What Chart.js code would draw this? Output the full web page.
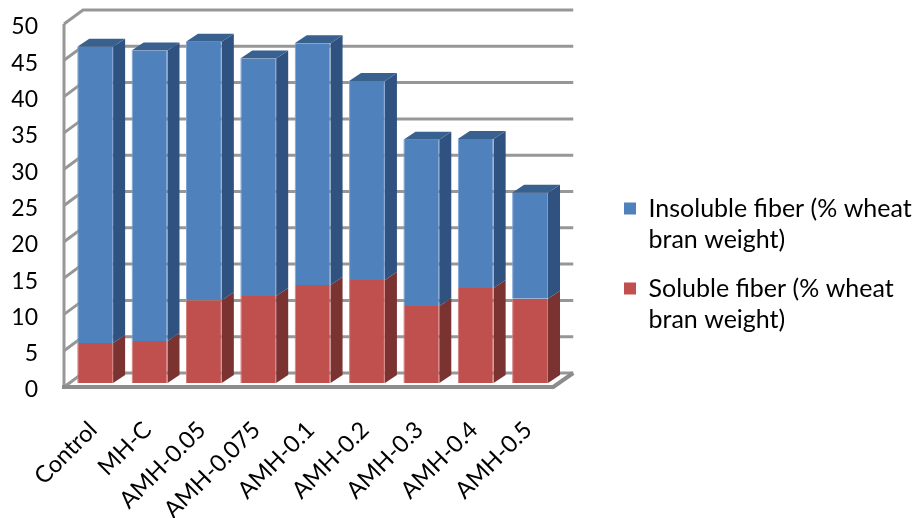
<!DOCTYPE html>
<html>
<head>
<meta charset="utf-8">
<style>
  html, body { margin: 0; padding: 0; background: #fff; }
  canvas { display: block; }
</style>
<script src="https://cdn.jsdelivr.net/npm/chart.js@4/dist/chart.umd.min.js"></script>
</head>
<body>
<canvas id="fiberChart" width="914" height="518"></canvas>
<script>
const categories = ["Control", "MH-C", "AMH-0.05", "AMH-0.075", "AMH-0.1", "AMH-0.2", "AMH-0.3", "AMH-0.4", "AMH-0.5"];
const soluble = [5.5, 5.8, 11.4, 12.0, 13.5, 14.2, 10.6, 13.1, 11.6];
const insoluble = [40.8, 40.0, 35.6, 32.7, 33.3, 27.4, 22.9, 20.5, 14.6];
const solubleLabel = ["Soluble fiber (% wheat", "bran weight)"];
const insolubleLabel = ["Insoluble fiber (% wheat", "bran weight)"];

const FONT = "Lato, Carlito, sans-serif";
const TEXT = "#000";

// fake 3D: walls and floor behind the bars, side and top faces on each bar
const depth3d = {
  id: "depth3d",
  afterLayout(chart) {
    // legend box is capped by the layout, its text runs on past that, so just move it
    chart.legend.left = 606;
    chart.legend.right = chart.width;
    chart.legend.top -= 2;
    chart.legend.bottom -= 2;
  },
  beforeDatasetsDraw(chart) {
    const { ctx, chartArea: area, scales } = chart;
    const y = scales.y;
    const frontX = area.left - 4, frontDy = 4;
    const backX = area.left + 15, backDy = -10;
    const backRight = area.right + 16, frontRight = area.right - 4;

    ctx.save();
    ctx.lineCap = "butt";
    ctx.lineJoin = "miter";
    ctx.strokeStyle = "#979797";
    ctx.lineWidth = 3;

    y.ticks.forEach(t => {
      const py = y.getPixelForValue(t.value);
      ctx.beginPath();
      ctx.moveTo(frontX, py + frontDy);
      ctx.lineTo(backX, py + backDy);
      ctx.lineTo(backRight, py + backDy);
      ctx.stroke();
    });

    // left wall edge
    ctx.beginPath();
    ctx.moveTo(frontX, y.getPixelForValue(50) + frontDy);
    ctx.lineTo(frontX, y.getPixelForValue(0) + frontDy);
    ctx.stroke();

    // floor front and right edges
    const floorY = y.getPixelForValue(0);
    ctx.strokeStyle = "#8c8c8c";
    ctx.lineWidth = 4;
    ctx.beginPath();
    ctx.moveTo(frontX - 2, floorY + frontDy);
    ctx.lineTo(frontRight, floorY + frontDy);
    ctx.lineTo(backRight, floorY + backDy);
    ctx.stroke();

    // bar sides and tops
    const sideDx = 12, sideDy = -8;
    const sides = ["#7a3331", "#2f5280"];
    const tops = [null, "#39618f"];
    chart.data.datasets.forEach((ds, i) => {
      chart.getDatasetMeta(i).data.forEach(bar => {
        const right = bar.x + bar.width / 2;
        const left = bar.x - bar.width / 2;
        ctx.fillStyle = sides[i];
        ctx.beginPath();
        ctx.moveTo(right, bar.y);
        ctx.lineTo(right + sideDx, bar.y + sideDy);
        ctx.lineTo(right + sideDx, bar.base + sideDy);
        ctx.lineTo(right, bar.base);
        ctx.closePath();
        ctx.fill();
        if (tops[i]) {
          ctx.fillStyle = tops[i];
          ctx.beginPath();
          ctx.moveTo(left, bar.y);
          ctx.lineTo(left + sideDx, bar.y + sideDy);
          ctx.lineTo(right + sideDx, bar.y + sideDy);
          ctx.lineTo(right, bar.y);
          ctx.closePath();
          ctx.fill();
        }
      });
    });
    ctx.restore();
  }
};

new Chart(document.getElementById("fiberChart"), {
  type: "bar",
  plugins: [depth3d],
  data: {
    labels: categories,
    datasets: [
      { label: solubleLabel, data: soluble, backgroundColor: "#c0504d", borderColor: "#d27c79", borderWidth: { left: 1, right: 1 } },
      { label: insolubleLabel, data: insoluble, backgroundColor: "#4f81bd", borderColor: "#7aa0d0", borderWidth: { left: 1, right: 1 } }
    ]
  },
  options: {
    responsive: false,
    animation: false,
    layout: { padding: { top: 20, right: 171, left: 0, bottom: 0 } },
    categoryPercentage: 1,
    barPercentage: 0.66,
    plugins: {
      title: { display: false },
      tooltip: { enabled: false },
      legend: {
        position: "right",
        reverse: true,
        labels: {
          color: TEXT,
          boxWidth: 12,
          boxHeight: 12,
          padding: 18,
          font: { family: FONT, size: 25, lineHeight: 1.24 },
          generateLabels(chart) {
            return Chart.defaults.plugins.legend.labels.generateLabels(chart).map(item => ({ ...item, lineWidth: 0 }));
          }
        }
      }
    },
    scales: {
      x: {
        stacked: true,
        grid: { display: false, drawTicks: false },
        border: { display: false },
        afterFit: s => { s.height = 135; s.paddingLeft = 0; s.paddingRight = 0; },
        ticks: {
          color: TEXT,
          minRotation: 45,
          maxRotation: 45,
          autoSkip: false,
          padding: 33,
          labelOffset: -2,
          font: { family: FONT, size: 23.5 }
        }
      },
      y: {
        stacked: true,
        min: 0,
        max: 50,
        grid: { display: false, drawTicks: false },
        border: { display: false },
        afterFit: s => { s.width = 68; s.paddingTop = 0; s.paddingBottom = 0; },
        ticks: {
          color: TEXT,
          stepSize: 5,
          padding: 30,
          labelOffset: 7,
          font: { family: FONT, size: 23 }
        }
      }
    }
  }
});
</script>
</body>
</html>
